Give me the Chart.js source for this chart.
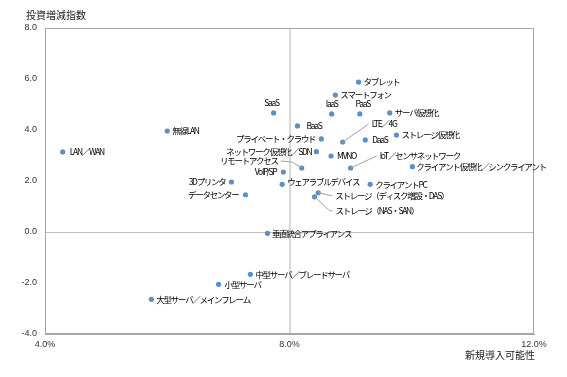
<!DOCTYPE html>
<html>
<head>
<meta charset="utf-8">
<script src="https://cdn.jsdelivr.net/npm/chart.js@4"></script>
<style>
  html, body { margin: 0; padding: 0; background: #fff; }
  #wrap { width: 567px; height: 377px; }
</style>
</head>
<body>
<div id="wrap"><canvas id="scatter"></canvas></div>
<script>
// data: x = 新規導入可能性 (%), y = 投資増減指数
const names = [
  'LAN／WAN', '無線LAN', 'SaaS', 'BaaS', 'タブレット', 'スマートフォン', 'IaaS', 'PaaS',
  'サーバ仮想化', 'LTE／4G', 'DaaS', 'ストレージ仮想化', 'プライベート・クラウド',
  'ネットワーク仮想化／SDN', 'MVNO', 'リモートアクセス', 'VoIP/SP', 'IoT／センサネットワーク',
  'ウェアラブルデバイス', 'クライアント仮想化／シンクライアント', 'クライアントPC',
  'ストレージ（ディスク増設・DAS）', 'ストレージ（NAS・SAN）', '3Dプリンタ', 'データセンター',
  '垂直統合アプライアンス', '中型サーバ／ブレードサーバ', '小型サーバ', '大型サーバ／メインフレーム'
];
const xVals = [4.29, 6.00, 7.74, 8.13, 9.13, 8.75, 8.69, 9.15, 9.64, 8.87, 9.24, 9.75, 8.52,
  8.44, 8.68, 8.20, 7.90, 9.00, 7.88, 10.01, 9.32, 8.47, 8.41, 7.05, 7.28, 7.64, 7.36, 6.84, 5.74];
const yVals = [3.14, 3.96, 4.67, 4.16, 5.88, 5.37, 4.63, 4.63, 4.67, 3.53, 3.61, 3.80, 3.65,
  3.15, 2.98, 2.51, 2.35, 2.51, 1.87, 2.56, 1.87, 1.54, 1.38, 1.96, 1.46, -0.05, -1.66, -2.05, -2.64];
const xTicks = [4, 8, 12];
const yTicks = [-4, -2, 0, 2, 4, 6, 8];

// label placement: [dx, dy, align, leader?, elbow?]
const labelPos = [
  [7, 0, 'left'], [5, 0, 'left'], [-2, -10, 'center'], [9, 0, 'left'], [5, 0, 'left'],
  [5, 0, 'left'], [0, -10, 'center'], [3, -10, 'center'], [5, 0, 'left'],
  [29, -18, 'left', true], [7, 0, 'left'], [5, 0, 'left'], [-6, 0, 'right'],
  [-5, 0, 'right'], [6, 0, 'left'], [-24, -7, 'right', true, [-10, -6]], [-7, 0, 'right'],
  [29, -12, 'left', true], [5, -3, 'left'], [4, 0, 'left'], [5, 0, 'left'],
  [17, 3, 'left', true], [21, 14, 'left', true, [15, 14]], [-6, 0, 'right'], [-7, 0, 'right'],
  [4.5, 0, 'left'], [5, 0, 'left'], [6, 0, 'left'], [5, 0, 'left']
];

const jp = '"Noto Sans CJK JP", "Liberation Sans", sans-serif';

const pointLabels = {
  id: 'pointLabels',
  afterDraw(chart) {
    const ctx = chart.ctx;
    const a = chart.chartArea;
    const xs = chart.scales.x, ys = chart.scales.y;
    ctx.save();
    // frame
    ctx.strokeStyle = '#a6a6a6';
    ctx.lineWidth = 1;
    ctx.strokeRect(a.left + 0.5, a.top + 0.5, a.right - a.left - 1, a.bottom - a.top - 1);
    // titles
    ctx.fillStyle = '#1a1a1a';
    ctx.font = '10px ' + jp;
    ctx.textBaseline = 'middle';
    ctx.textAlign = 'left';
    ctx.fillText('投資増減指数', 26, 15);
    ctx.textAlign = 'right';
    ctx.fillText('新規導入可能性', 535, 355);
    // labels
    ctx.font = '8.5px ' + jp;
    ctx.letterSpacing = '-1.3px';
    ctx.fillStyle = '#000';
    for (let i = 0; i < names.length; i++) {
      const px = xs.getPixelForValue(xVals[i]);
      const py = ys.getPixelForValue(yVals[i]);
      const p = labelPos[i];
      const lx = px + p[0], ly = py + p[1];
      if (p[3]) {
        ctx.strokeStyle = '#a0a0a0';
        ctx.lineWidth = 1;
        ctx.beginPath();
        ctx.moveTo(px, py);
        if (p[4]) ctx.lineTo(px + p[4][0], py + p[4][1]);
        ctx.lineTo(lx + (p[2] === 'right' ? 3 : -3), ly);
        ctx.stroke();
      }
      ctx.textAlign = p[2];
      ctx.fillText(names[i], lx, ly);
    }
    ctx.restore();
  }
};

new Chart(document.getElementById('scatter'), {
  type: 'scatter',
  data: {
    datasets: [{
      data: names.map((n, i) => ({ x: xVals[i], y: yVals[i] })),
      backgroundColor: '#5b8fc7',
      borderWidth: 0,
      pointRadius: 2.6
    }]
  },
  options: {
    responsive: true,
    maintainAspectRatio: false,
    animation: false,
    layout: { padding: { left: 0, right: 33, top: 28, bottom: 0 } },
    plugins: { legend: { display: false }, tooltip: { enabled: false } },
    scales: {
      x: {
        type: 'linear', min: 4, max: 12,
        afterBuildTicks: s => { s.ticks = xTicks.map(v => ({ value: v })); },
        afterFit: s => { s.height = 43; },
        grid: {
          drawTicks: false,
          color: c => c.tick && c.tick.value === 8 ? '#d9d9d9' : 'rgba(0,0,0,0)',
          lineWidth: c => c.tick && c.tick.value === 8 ? 2 : 1
        },
        border: { color: '#a6a6a6' },
        ticks: {
          padding: 5, color: '#333',
          font: { family: 'Liberation Sans', size: 9 },
          callback: v => v.toFixed(1) + '%'
        }
      },
      y: {
        type: 'linear', min: -4, max: 8,
        afterBuildTicks: s => { s.ticks = yTicks.map(v => ({ value: v })); },
        afterFit: s => { s.width = 45; },
        grid: {
          drawTicks: false,
          color: c => c.tick && c.tick.value === 0 ? '#bfbfbf' : 'rgba(0,0,0,0)'
        },
        border: { color: '#a6a6a6' },
        ticks: {
          padding: 8, color: '#333',
          font: { family: 'Liberation Sans', size: 9 },
          callback: v => v.toFixed(1)
        }
      }
    }
  },
  plugins: [pointLabels]
});
</script>
</body>
</html>
